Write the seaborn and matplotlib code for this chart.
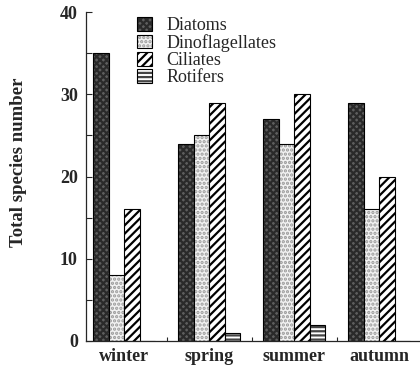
import matplotlib
matplotlib.use("Agg")
import matplotlib.pyplot as plt
import seaborn as sns
import pandas as pd
from matplotlib.patches import Patch

seasons = ["winter", "spring", "summer", "autumn"]
groups = ["Diatoms", "Dinoflagellates", "Ciliates", "Rotifers"]
diatoms = [35, 24, 27, 29]
dinoflagellates = [8, 25, 24, 16]
ciliates = [16, 29, 30, 20]
rotifers = [0, 1, 2, 0]

rows = []
for name, vals in zip(groups, [diatoms, dinoflagellates, ciliates, rotifers]):
    for s, v in zip(seasons, vals):
        rows.append({"season": s, "group": name, "count": v})
df = pd.DataFrame(rows)

sns.set_style("ticks")
plt.rcParams['font.family'] = ['Liberation Serif', 'DejaVu Serif']
plt.rcParams['hatch.linewidth'] = 1.6

fig = plt.figure(figsize=(4.2, 3.67), dpi=100)
ax = fig.add_axes([0.205, 0.071, 0.795, 0.896])

faces = ["#5e5e5e", "#f2f2f2", "white", "white"]
hatches = ["xxxxx", "....", "////", "----"]
hatch_cols = ["#2a2a2a", "#9a9a9a", "black", "#444444"]

sns.barplot(data=df, x="season", y="count", hue="group", hue_order=groups,
            palette=faces, width=0.73, edgecolor="black", linewidth=0.8,
            ax=ax, legend=False)

for cont, h, hc in zip(ax.containers, hatches, hatch_cols):
    for bar in cont:
        bar.set_hatch(h)
        bar._hatch_color = matplotlib.colors.to_rgba(hc)

handles = []
for f, h, hc in zip(faces, hatches, hatch_cols):
    p = Patch(facecolor=f, edgecolor="black", hatch=h, linewidth=0.8)
    p._hatch_color = matplotlib.colors.to_rgba(hc)
    handles.append(p)
ax.legend(handles, groups, loc="upper left", bbox_to_anchor=(0.13, 1.008),
          frameon=False, fontsize=13, handlelength=0.85, handleheight=0.8,
          labelspacing=0.0, handletextpad=0.8, borderaxespad=0)

ax.set_xlim(-0.45, 3.48)
ax.set_ylim(0, 40)
ax.set_yticks([0, 10, 20, 30, 40])
ax.set_yticks([5, 15, 25, 35], minor=True)
ax.set_xticks([0.5, 1.5, 2.5], minor=True)
ax.tick_params(axis="y", which="both", direction="in", length=4, width=0.8, pad=6)
ax.tick_params(axis="x", which="major", length=0, pad=5)
ax.tick_params(axis="x", which="minor", direction="in", length=3, width=0.8)
for lbl in ax.get_yticklabels() + ax.get_xticklabels():
    lbl.set_fontweight("bold")
    lbl.set_fontsize(13)
ax.set_xlabel("")
ax.set_ylabel("Total species number", fontsize=13.5, fontweight="bold")
ax.yaxis.set_label_coords(-0.177, 0.544)
sns.despine(ax=ax)
ax.spines["left"].set_linewidth(0.9)
ax.spines["bottom"].set_linewidth(0.9)

fig.savefig("out.png", dpi=100)
